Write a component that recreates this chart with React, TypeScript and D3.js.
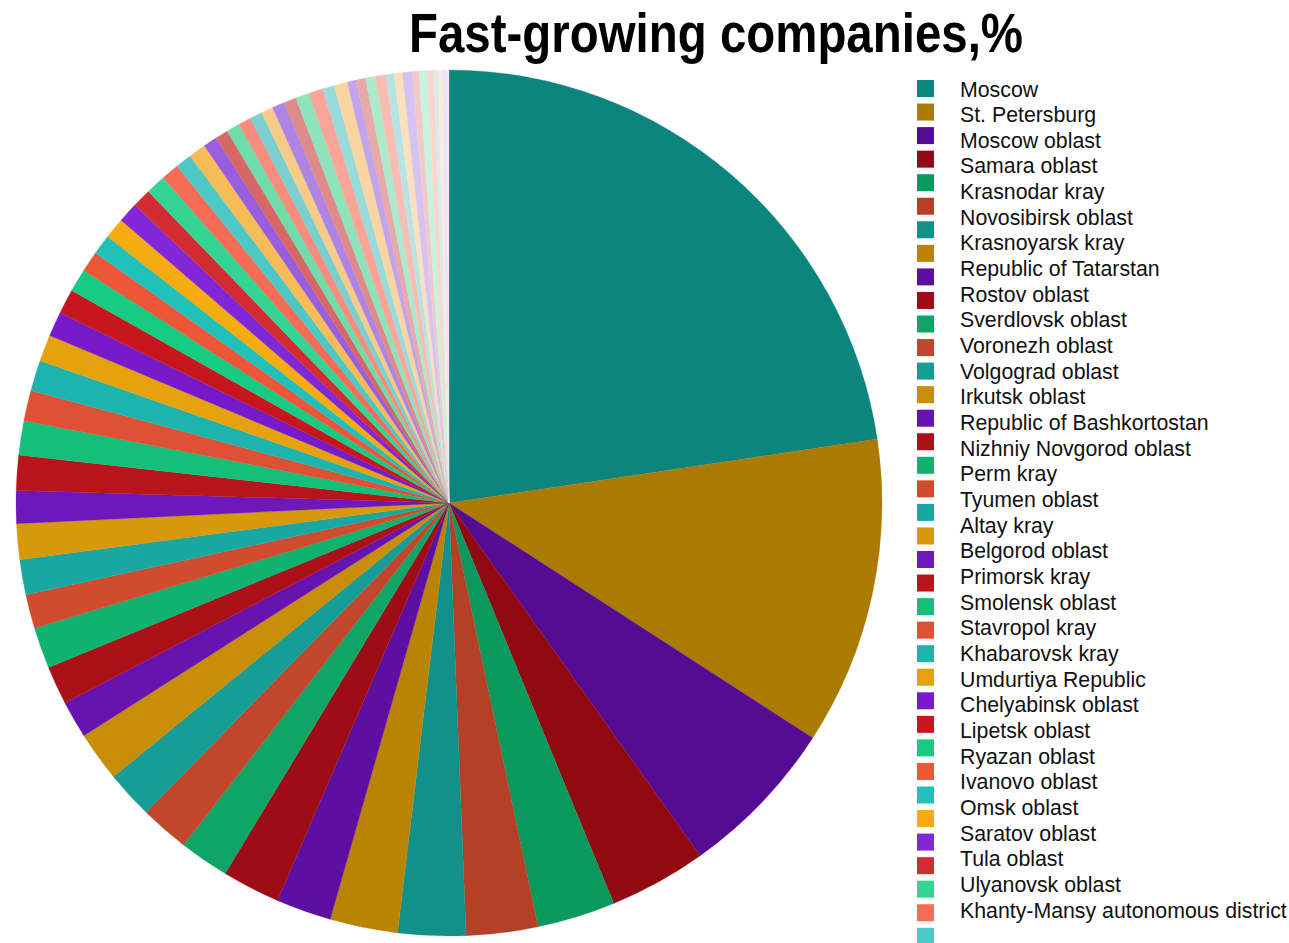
import React from 'react';
import * as d3 from 'd3';

const title = 'Fast-growing companies,%';

const regionNames = [
  'Moscow', 'St. Petersburg', 'Moscow oblast', 'Samara oblast', 'Krasnodar kray',
  'Novosibirsk oblast', 'Krasnoyarsk kray', 'Republic of Tatarstan', 'Rostov oblast',
  'Sverdlovsk oblast', 'Voronezh oblast', 'Volgograd oblast', 'Irkutsk oblast',
  'Republic of Bashkortostan', 'Nizhniy Novgorod oblast', 'Perm kray', 'Tyumen oblast',
  'Altay kray', 'Belgorod oblast', 'Primorsk kray', 'Smolensk oblast', 'Stavropol kray',
  'Khabarovsk kray', 'Umdurtiya Republic', 'Chelyabinsk oblast', 'Lipetsk oblast',
  'Ryazan oblast', 'Ivanovo oblast', 'Omsk oblast', 'Saratov oblast', 'Tula oblast',
  'Ulyanovsk oblast', 'Khanty-Mansy autonomous district',
];

// shares, % (one per slice, clockwise from 12 o'clock)
const shares = [
  22.67, 11.5, 6.03, 3.64, 2.92, 2.67, 2.53, 2.53, 2.06, 2.17,
  1.86, 1.83, 1.78, 1.86, 1.39, 1.44, 1.53, 1.28, 1.31, 1.33,
  1.22, 1.31, 1.28, 1.14, 1.14, 1.0, 0.92, 0.92, 0.86, 0.78,
  0.75, 0.78, 0.75, 0.71, 0.74, 0.67, 0.61, 0.64, 0.51, 0.49,
  0.5, 0.47, 0.47, 0.44, 0.47, 0.46, 0.51, 0.53, 0.44, 0.5,
  0.33, 0.36, 0.36, 0.39, 0.31, 0.31, 0.36, 0.25, 0.31, 0.25,
  0.15, 0.15, 0.17, 0.08,
];

// colour ramps per hue family: dark -> vivid -> pastel -> pale
const familyRamps = [
  ['#0d857f', '#22c2ba', '#72cccc', '#e2f3f3'],
  ['#a87800', '#f4ac10', '#f8c47a', '#fbf0e0'],
  ['#520a8e', '#7e1ed6', '#a070e0', '#eee8fa'],
  ['#8a0810', '#d01820', '#d87070', '#fae8e8'],
  ['#0a9058', '#16d286', '#70dcaa', '#e2f8ec'],
  ['#a83c22', '#f2583a', '#f88878', '#fde6e0'],
];
const rampStops = [0, 31, 40, 63];

const legendSquareCount = 37;

function sliceColor(i: number): string {
  const f = i % 6;
  const s = d3
    .scaleLinear<string>()
    .domain(rampStops)
    .range(familyRamps[f])
    .interpolate(d3.interpolateRgb)
    .clamp(true);
  return s(i);
}

export default function App() {
  const W = 1289;
  const H = 943;
  const cx = 449;
  const cy = 503;
  const R = 433;

  const pie = d3
    .pie<number>()
    .sort(null)
    .value((d) => d)
    .startAngle(0)
    .endAngle(2 * Math.PI);
  const arcs = pie(shares);
  const arc = d3.arc<d3.PieArcDatum<number>>().innerRadius(0).outerRadius(R);

  const squareY = d3.scaleLinear().domain([0, 1]).range([88.5, 88.5 + 23.55]);
  const labelY = d3.scaleLinear().domain([0, 1]).range([89.5, 89.5 + 25.66]);

  return (
    <svg
      width={W}
      height={H}
      viewBox={`0 0 ${W} ${H}`}
      style={{ position: 'absolute', left: 0, top: 0, display: 'block', background: '#fff' }}
    >
      <text
        x={716}
        y={52}
        textAnchor="middle"
        fontFamily="'Liberation Sans', Arial, sans-serif"
        fontWeight="bold"
        fontSize={56}
        textLength={614}
        lengthAdjust="spacingAndGlyphs"
        fill="#000"
      >
        {title}
      </text>
      <g transform={`translate(${cx},${cy})`}>
        {arcs.map((a, i) => (
          <path key={i} d={arc(a) || ''} fill={sliceColor(i)} stroke={sliceColor(i)} strokeWidth={0.3} />
        ))}
      </g>
      <g>
        {d3.range(legendSquareCount).map((k) => (
          <rect
            key={k}
            x={917}
            y={squareY(k) - 8.5}
            width={17}
            height={17}
            fill={sliceColor(k)}
          />
        ))}
        {regionNames.map((name, i) => (
          <text
            key={name}
            x={960}
            y={labelY(i)}
            dominantBaseline="central"
            fontFamily="'Liberation Sans', Arial, sans-serif"
            fontSize={21.3}
            fill="#111"
          >
            {name}
          </text>
        ))}
      </g>
    </svg>
  );
}
